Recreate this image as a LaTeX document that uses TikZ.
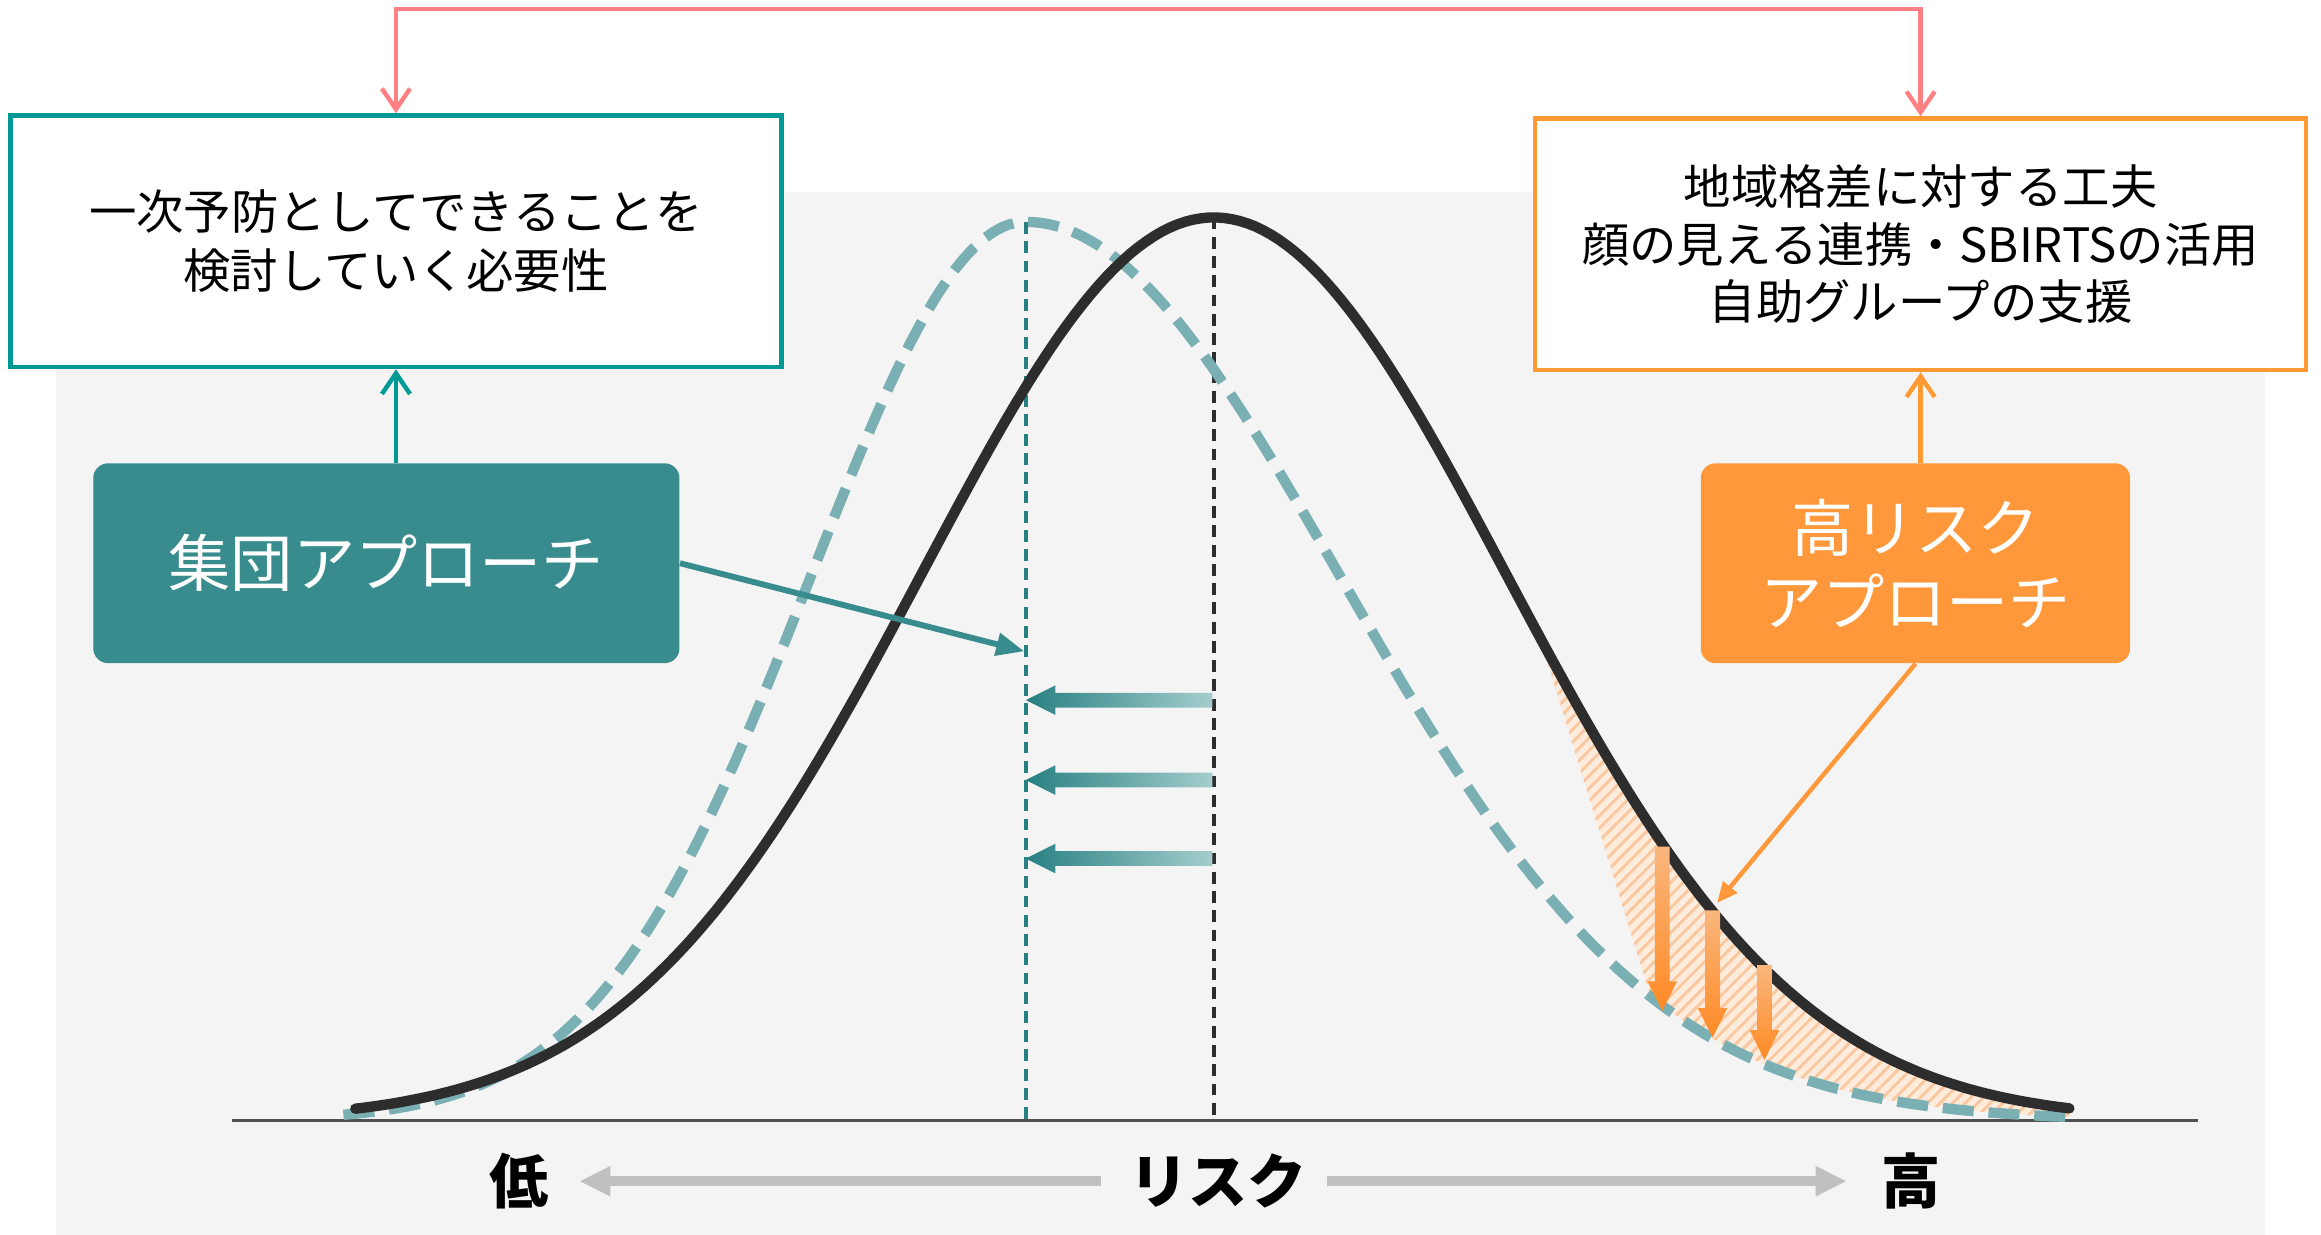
\documentclass[tikz,border=0pt]{standalone}
\usepackage{fontspec}
\setmainfont{Noto Sans CJK JP}
\usetikzlibrary{arrows.meta,patterns.meta}
\definecolor{tealbd}{RGB}{0,153,150}
\definecolor{orgbd}{RGB}{255,153,51}
\definecolor{pinkl}{RGB}{255,128,130}
\definecolor{tealbox}{RGB}{56,140,142}
\definecolor{orgbox}{RGB}{255,152,58}
\definecolor{panel}{RGB}{244,244,244}
\definecolor{dashc}{RGB}{122,176,180}
\definecolor{curvec}{RGB}{45,45,45}
\definecolor{tealdk}{RGB}{40,128,130}
\definecolor{tealmd}{RGB}{60,140,142}
\definecolor{teallt}{RGB}{165,205,205}
\definecolor{axisg}{RGB}{192,192,192}
\definecolor{peach}{RGB}{253,236,220}
\definecolor{hatchc}{RGB}{250,200,160}
\definecolor{orgdark}{RGB}{255,138,36}
\definecolor{orglt}{RGB}{250,182,125}
\definecolor{basec}{RGB}{80,80,80}
\tikzset{
  declare function={
    bk(\t)=757-610*exp(-0.5*((\t-820)/197)*((\t-820)/197));
    dl(\t)=757-607*exp(-0.5*((\t-693)/145)*((\t-693)/145));
    dr(\t)=757-607*exp(-0.5*((\t-693)/212)*((\t-693)/212));
  },
  infobox/.style={draw, line width=1.5pt, fill=white, minimum width=260.5pt,
    minimum height=85pt, align=center, font=\fontsize{16}{20}\selectfont,
    text=black, inner sep=0pt},
  appbox/.style={rounded corners=5pt, draw=none, text=white, align=center,
    inner sep=0pt, minimum height=67.5pt, font=\fontsize{21}{25}\selectfont},
  vlink/.style={line width=1.5pt, -{Straight Barb[length=7pt,width=9.5pt]}},
  axislab/.style={font=\fontsize{20}{24}\selectfont\bfseries, inner sep=0pt, text=black},
  vdash/.style={line width=1.5pt, dash pattern=on 4pt off 2.5pt},
}
\begin{document}
\begin{tikzpicture}[x=0.5pt,y=-0.5pt]
\useasboundingbox (0,0) rectangle (1568,834);
\fill[white] (0,0) rectangle (1568,834);
\fill[panel] (38,130) rectangle (1530,834);

% hatched region
\path[fill=peach, postaction={pattern={Lines[angle=45,distance=3pt,line width=1pt]}, pattern color=hatchc}]
  (1040,{bk(1040)}) -- (1115,{dr(1115)})
  -- plot[domain=1115:1400,samples=80] (\x,{dr(\x)})
  -- plot[domain=1398:1040,samples=80] (\x,{bk(\x)}) -- cycle;

% baseline
\coordinate (bl) at (157,757);
\coordinate (br) at (1485,757);
\draw[basec, line width=0.8pt] (bl) -- (br);

% vertical dashed lines
\coordinate (tpk) at (693,150);
\coordinate (tbt) at (693,757);
\coordinate (bpk) at (820,147);
\coordinate (bbt) at (820,757);
\draw[tealdk, vdash] (tpk) -- (tbt);
\draw[curvec, vdash] (bpk) -- (bbt);

% curves
\draw[dashc, line width=3.5pt, dash pattern=on 10.5pt off 5pt]
  plot[domain=232:693,samples=120] (\x,{dl(\x)})
  -- plot[domain=693:1400,samples=160] (\x,{dr(\x)});
\draw[curvec, line width=3.5pt, line cap=round, line join=round]
  plot[domain=240:1398,samples=220] (\x,{bk(\x)});

% teal shift arrows
\foreach \y in {473,527,580}{
  \shade[left color=tealdk, middle color=tealmd, right color=teallt]
    (693,\y) -- (713,\y-10) -- (713,\y-5) -- (819,\y-5) -- (819,\y+5)
    -- (713,\y+5) -- (713,\y+10) -- cycle;
}

% orange down arrows
\foreach \xx/\yt/\yb in {1123/572/683,1157/615/701,1192/652/716}{
  \shade[top color=orglt, bottom color=orgdark]
    (\xx-5,\yt) -- (\xx+5,\yt) -- (\xx+5,\yb-20) -- (\xx+10,\yb-20)
    -- (\xx,\yb) -- (\xx-10,\yb-20) -- (\xx-5,\yb-20) -- cycle;
}

% boxes
\node[infobox, draw=tealbd] (lbox) at (267.5,163) {一次予防としてできることを\\検討していく必要性};
\node[infobox, draw=orgbd, font=\fontsize{16}{19.5}\selectfont] (rbox) at (1297.5,165)
  {地域格差に対する工夫\\顔の見える連携・SBIRTSの活用\\自助グループの支援};
\node[appbox, fill=tealbox, minimum width=198pt] (gbox) at (261,380.5) {集団アプローチ};
\node[appbox, fill=orgbox, minimum width=145pt] (hbox) at (1294,380.5) {高リスク\\アプローチ};

% connectors
\coordinate (ptop) at (782,6);
\draw[pinkl, line width=1.5pt,
  {Straight Barb[length=7pt,width=9.5pt]}-{Straight Barb[length=7pt,width=9.5pt]}]
  (lbox.north) |- (ptop) -| (rbox.north);
\draw[tealbd, vlink] (lbox.south |- gbox.north) -- (lbox.south);
\draw[orgbd, vlink] (rbox.south |- hbox.north) -- (rbox.south);

\coordinate (gtip) at (692,440);
\draw[tealbox, line width=2pt, -{Triangle[length=9.5pt,width=7.5pt]}] (gbox.east) -- (gtip);
\coordinate (htip) at (1160,610);
\draw[orgbox, line width=1.5pt, -{Triangle[length=7pt,width=6pt]}] (hbox.south) -- (htip);

% axis labels
\node[axislab] (lo) at (351,798) {低};
\node[axislab] (risk) at (823,798) {リスク};
\node[axislab] (hi) at (1291,798) {高};
\draw[axisg, line width=3.2pt, -{Triangle[length=10.5pt,width=9.5pt]},
  shorten <=9.5pt, shorten >=10pt] (risk.west) -- (lo.east);
\draw[axisg, line width=3.2pt, -{Triangle[length=10.5pt,width=9.5pt]},
  shorten <=6.5pt, shorten >=11.5pt] (risk.east) -- (hi.west);
\end{tikzpicture}
\end{document}
